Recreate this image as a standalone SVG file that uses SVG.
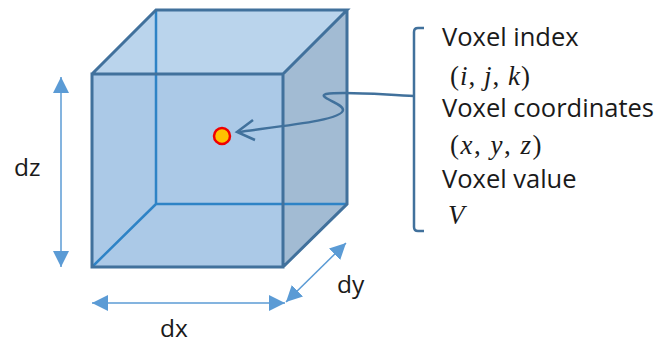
<svg xmlns="http://www.w3.org/2000/svg" width="662" height="345" viewBox="0 0 662 345">
<defs>
<marker id="ah" markerUnits="userSpaceOnUse" markerWidth="16" markerHeight="16" refX="16" refY="8" orient="auto-start-reverse"><path d="M0 0L16 8L0 16Z" fill="#5b9bd5"/></marker>
</defs>
<style>
.t{font-family:"Open Sans","Noto Sans",sans-serif;font-size:25.5px;fill:#1a1a1a}
.d{font-size:24.5px}
.m{font-family:"Liberation Serif",serif;font-size:27px;fill:#1a1a1a;letter-spacing:1.5px}
.mi{font-style:italic}
.edge{fill:none;stroke:#41719c;stroke-width:3;stroke-linejoin:miter}
.inner{fill:none;stroke:#2e83c6;stroke-width:2.5}
.dim{fill:none;stroke:#5b9bd5;stroke-width:1.5;marker-start:url(#ah);marker-end:url(#ah)}
</style>
<g id="cube">
<path d="M92 74H283V267H92Z" fill="#abc9e7"/>
<path d="M92 74L156 10H347L283 74Z" fill="#bad4ec"/>
<path d="M283 74L347 10V204L283 267Z" fill="#a2bbd3"/>
<path class="inner" d="M156 10V204M156 204H347M156 204L92 267"/>
<path class="edge" d="M92 74H283V267H92ZM92 74L156 10H347L283 74M347 10V204L283 267"/>
</g>
<g id="voxel-point"><circle cx="222" cy="136" r="8" fill="#ffc000" stroke="#f00000" stroke-width="2.5"/></g>
<g id="connectors">
<path d="M414 96C385 95 345 91 326 94C316 97 343 103 343 110C342 120 290 125 238 132" fill="none" stroke="#41719c" stroke-width="2.5"/>
<path d="M253 120L237 132L255 140" fill="none" stroke="#41719c" stroke-width="2.5"/>
<path d="M424 28H418Q414 28 414 32V227Q414 231 418 231H424" fill="none" stroke="#41719c" stroke-width="2.5"/>
<path class="dim" d="M61 77V267"/>
<path class="dim" d="M92 303H285"/>
<path class="dim" d="M286 302L346 243"/>
</g>
<g id="labels">
<text class="t d" x="14" y="176">dz</text>
<text class="t d" x="160" y="337">dx</text>
<text class="t d" x="337" y="293">dy</text>
<text class="t" x="442" y="46">Voxel index</text>
<text class="m" x="450" y="85" style="letter-spacing:1px">(<tspan class="mi">i</tspan>, <tspan class="mi">j</tspan>, <tspan class="mi">k</tspan>)</text>
<text class="t" x="442" y="117">Voxel coordinates</text>
<text class="m" x="450" y="154">(<tspan class="mi">x</tspan>, <tspan class="mi">y</tspan>, <tspan class="mi">z</tspan>)</text>
<text class="t" x="442" y="188">Voxel value</text>
<text class="m mi" x="448" y="224">V</text>
</g>
</svg>
